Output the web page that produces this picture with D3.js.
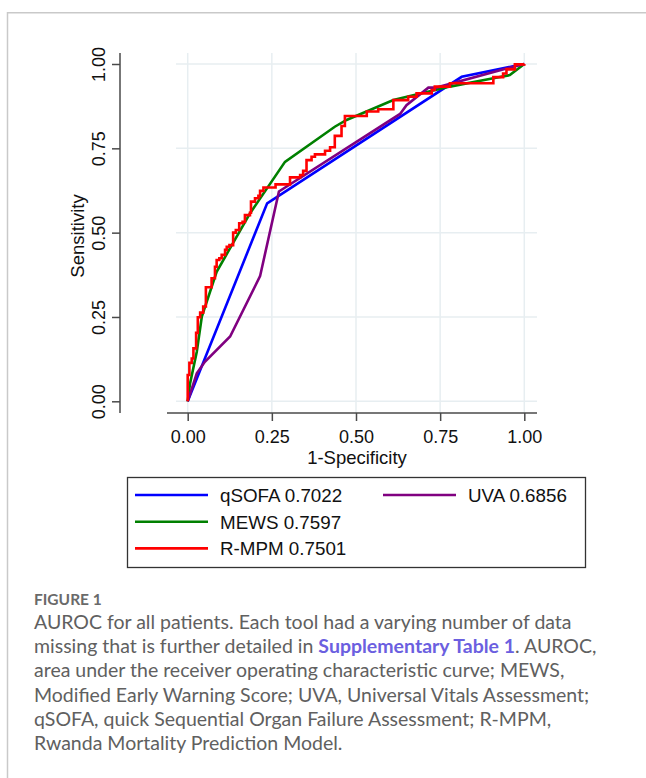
<!DOCTYPE html>
<html>
<head>
<meta charset="utf-8">
<script src="https://cdn.jsdelivr.net/npm/d3@7"></script>
<style>
  body { margin: 0; background: #fff; }
  svg { display: block; }
  .tick text { font-family: "Liberation Sans", Arial, sans-serif; font-size: 18px; fill: #111; }
  .axis_title { font-family: "Liberation Sans", Arial, sans-serif; font-size: 18.5px; fill: #111; }
  .legend_text { font-family: "Liberation Sans", Arial, sans-serif; font-size: 18.8px; fill: #111; }
  .caption { font-family: Lato, "Open Sans", sans-serif; font-size: 19.5px; fill: #606060; }
  .fig_label { font-family: Lato, "Open Sans", sans-serif; font-size: 15.5px; font-weight: bold; fill: #6a6a6a; }
</style>
</head>
<body>
<div id="chart"></div>
<script>
// ROC points: [1-specificity, sensitivity]
let qsofa = [[0, 0], [0.236, 0.587], [0.814, 0.962], [1, 1]];

let mews = [[0, 0], [0.007, 0.053], [0.027, 0.147], [0.042, 0.251], [0.086, 0.384],
	[0.126, 0.454], [0.185, 0.557], [0.289, 0.710], [0.437, 0.814], [0.472, 0.834],
	[0.611, 0.893], [0.779, 0.933], [0.908, 0.958], [0.957, 0.967], [1, 1]];

let uva = [[0, 0], [0.027, 0.083], [0.051, 0.117], [0.126, 0.192], [0.215, 0.371],
	[0.271, 0.622], [0.631, 0.852], [0.650, 0.878], [0.715, 0.930], [0.739, 0.930],
	[0.947, 0.987], [1, 1]];

// R-MPM is a step curve: each point = level reached and where its run ends
let rmpm = [[0, 0], [0.005, 0.078], [0.012, 0.114], [0.017, 0.127], [0.025, 0.157],
	[0.030, 0.203], [0.037, 0.249], [0.046, 0.263], [0.054, 0.281], [0.071, 0.338],
	[0.081, 0.365], [0.086, 0.399], [0.094, 0.419], [0.101, 0.424], [0.111, 0.434],
	[0.116, 0.449], [0.124, 0.458], [0.135, 0.463], [0.143, 0.500], [0.153, 0.508],
	[0.163, 0.528], [0.170, 0.532], [0.185, 0.552], [0.188, 0.559], [0.200, 0.592],
	[0.210, 0.602], [0.215, 0.609], [0.225, 0.624], [0.261, 0.634], [0.304, 0.643],
	[0.334, 0.664], [0.343, 0.671], [0.353, 0.683], [0.368, 0.715], [0.378, 0.725],
	[0.408, 0.732], [0.423, 0.743], [0.437, 0.753], [0.457, 0.787], [0.467, 0.816],
	[0.532, 0.846], [0.566, 0.859], [0.611, 0.866], [0.655, 0.893], [0.680, 0.903],
	[0.725, 0.913], [0.734, 0.923], [0.779, 0.933], [0.908, 0.943], [0.937, 0.961],
	[0.947, 0.972], [0.972, 0.984], [1.0, 0.999], [1, 1]];

let tick_values = [0, 0.25, 0.5, 0.75, 1];

let legend_items = [
	{label: "qSOFA 0.7022", color: "#0000ff", col: 0, row: 0},
	{label: "MEWS 0.7597", color: "#008000", col: 0, row: 1},
	{label: "R-MPM 0.7501", color: "#ff0000", col: 0, row: 2},
	{label: "UVA 0.6856", color: "#800080", col: 1, row: 0}];

let caption_lines = [
	["AUROC for all patients. Each tool had a varying number of data"],
	["missing that is further detailed in ", "Supplementary Table 1", ". AUROC,"],
	["area under the receiver operating characteristic curve; MEWS,"],
	["Modified Early Warning Score; UVA, Universal Vitals Assessment;"],
	["qSOFA, quick Sequential Organ Failure Assessment; R-MPM,"],
	["Rwanda Mortality Prediction Model."]];

let width = 646, height = 778;

let svg = d3.select("#chart")
	.append("svg")
	.attr("width", width)
	.attr("height", height);

//frame round the figure
svg.append("path")
	.attr("d", "M7.5," + height + "V12.7H" + width)
	.attr("fill", "none")
	.attr("stroke", "#c9c9c9")
	.attr("stroke-width", 1.5);

//scales
let x_scale = d3.scaleLinear().domain([0, 1]).range([187.7, 524.3]);
let y_scale = d3.scaleLinear().domain([0, 1]).range([401.3, 64]);

//grid
let grid = svg.append("g").attr("class", "grid");
grid.selectAll("line.v")
	.data(tick_values)
	.enter()
	.append("line")
	.attr("x1", d => x_scale(d)).attr("x2", d => x_scale(d))
	.attr("y1", 53).attr("y2", 413)
	.attr("stroke", "#e7eef1").attr("stroke-width", 1.5);
grid.selectAll("line.h")
	.data(tick_values)
	.enter()
	.append("line")
	.attr("y1", d => y_scale(d)).attr("y2", d => y_scale(d))
	.attr("x1", 176).attr("x2", 537)
	.attr("stroke", "#e7eef1").attr("stroke-width", 1.5);

//y axis
let y_axis = svg.append("g")
	.attr("transform", "translate(120,0)")
	.call(d3.axisLeft(y_scale).tickValues(tick_values).tickFormat(d3.format(".2f")).tickSize(8));
y_axis.select(".domain").remove();
y_axis.selectAll(".tick line").attr("stroke", "#4a4a4a").attr("stroke-width", 1.5);
y_axis.selectAll(".tick text")
	.attr("x", 0).attr("dy", null)
	.attr("text-anchor", "middle")
	.attr("transform", "translate(-15,0) rotate(-90)");
y_axis.append("line")
	.attr("y1", 53).attr("y2", 413)
	.attr("stroke", "#4a4a4a").attr("stroke-width", 1.5);

//x axis
let x_axis = svg.append("g")
	.attr("transform", "translate(0,413)")
	.call(d3.axisBottom(x_scale).tickValues(tick_values).tickFormat(d3.format(".2f")).tickSize(8));
x_axis.select(".domain").remove();
x_axis.selectAll(".tick line").attr("stroke", "#4a4a4a").attr("stroke-width", 1.5);
x_axis.selectAll(".tick text").attr("y", 29.5).attr("dy", null);
x_axis.append("line")
	.attr("x1", 167).attr("x2", 537)
	.attr("stroke", "#4a4a4a").attr("stroke-width", 1.5);

//axis titles
svg.append("text")
	.attr("class", "axis_title")
	.attr("text-anchor", "middle")
	.attr("transform", "translate(84,236) rotate(-90)")
	.text("Sensitivity");
svg.append("text")
	.attr("class", "axis_title")
	.attr("text-anchor", "middle")
	.attr("x", 357).attr("y", 464)
	.text("1-Specificity");

//curves
let roc_line = d3.line()
	.x(d => x_scale(d[0]))
	.y(d => y_scale(d[1]));

let step_line = d3.line()
	.x(d => x_scale(d[0]))
	.y(d => y_scale(d[1]))
	.curve(d3.curveStepBefore);

svg.append("path").datum(qsofa).attr("d", roc_line)
	.attr("fill", "none").attr("stroke", "#0000ff").attr("stroke-width", 2.6);
svg.append("path").datum(mews).attr("d", roc_line)
	.attr("fill", "none").attr("stroke", "#008000").attr("stroke-width", 2.6);
svg.append("path").datum(uva).attr("d", roc_line)
	.attr("fill", "none").attr("stroke", "#800080").attr("stroke-width", 2.6);
svg.append("path").datum(rmpm).attr("d", step_line)
	.attr("fill", "none").attr("stroke", "#ff0000").attr("stroke-width", 2.6)
	.attr("stroke-linejoin", "miter");

//legend
let legend = svg.append("g");
legend.append("rect")
	.attr("x", 127.5).attr("y", 477.5)
	.attr("width", 458).attr("height", 90)
	.attr("fill", "#fff").attr("stroke", "#333").attr("stroke-width", 1.3);

let items = legend.selectAll("g.item")
	.data(legend_items)
	.enter()
	.append("g")
	.attr("transform", d => "translate(" + (d.col ? 383 : 135) + "," + (495 + d.row * 26.7) + ")");
items.append("line")
	.attr("x1", 0).attr("x2", 73)
	.attr("stroke", d => d.color).attr("stroke-width", 2.6);
items.append("text")
	.attr("class", "legend_text")
	.attr("x", 85).attr("y", 7)
	.text(d => d.label);

//caption
svg.append("text")
	.attr("class", "fig_label")
	.attr("x", 34).attr("y", 605)
	.text("FIGURE 1");

let caption = svg.append("text")
	.attr("class", "caption");
caption_lines.forEach((parts, i) => {
	parts.forEach((p, j) => {
		let ts = caption.append("tspan").text(p);
		if (j === 0) ts.attr("x", 34).attr("y", 629 + i * 24.2);
		if (p === "Supplementary Table 1") ts.attr("fill", "#6b5fe0").attr("font-weight", "bold");
	});
});
</script>
</body>
</html>
